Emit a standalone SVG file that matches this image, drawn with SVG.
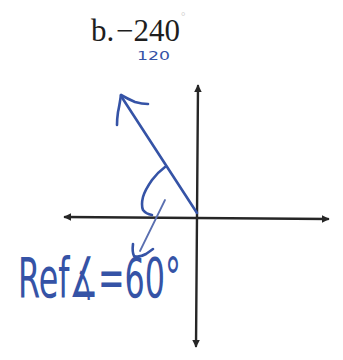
<svg xmlns="http://www.w3.org/2000/svg" width="343" height="360" viewBox="0 0 343 360">
  <defs>
    <style>
      .axis { stroke: #262626; stroke-width: 2.4; fill: none; stroke-linecap: round; }
      .ink { stroke: #3553a6; stroke-width: 2.6; fill: none; stroke-linecap: round; stroke-linejoin: round; }
      .ink-thin { stroke: #5a6fb0; stroke-width: 1.8; fill: none; stroke-linecap: round; stroke-linejoin: round; }
      .print { font-family: "Liberation Serif", "Times New Roman", serif; fill: #1e1e1e; }
      .hand { font-family: "DejaVu Sans", "Liberation Sans", sans-serif; fill: #3553a6; }
    </style>
    <marker id="axhead" viewBox="0 0 10 10" refX="8" refY="5" markerWidth="3.2" markerHeight="3.2" orient="auto-start-reverse" markerUnits="strokeWidth">
      <path d="M0,0 L10,5 L0,10 Z" fill="#262626"/>
    </marker>
  </defs>
  <rect width="343" height="360" fill="#ffffff"/>

  <g id="title">
    <text class="print" x="91" y="41" font-size="31">b.</text>
    <text class="print" x="116" y="41" font-size="31">−240</text>
    <text x="181" y="20" font-size="11" font-family="Liberation Serif, serif" fill="#c8c8c8">°</text>
  </g>

  <g id="answer-120">
    <text class="hand" x="137" y="60" font-size="13" textLength="33" lengthAdjust="spacingAndGlyphs">120</text>
  </g>

  <g id="connectors">
    <g id="x-axis">
      <line class="axis" x1="65" y1="217" x2="328" y2="219" marker-start="url(#axhead)" marker-end="url(#axhead)"/>
    </g>
    <g id="y-axis">
      <line class="axis" x1="198" y1="86" x2="196" y2="346" marker-start="url(#axhead)" marker-end="url(#axhead)"/>
    </g>
  </g>

  <g id="terminal-ray">
    <path class="ink" d="M197,213 L121,96"/>
    <path class="ink" d="M121,95 Q128,99 135,102 Q142,104 148,104"/>
    <path class="ink" d="M121,95 Q119,108 118,112 Q117,119 117,125"/>
  </g>

  <g id="angle-arc">
    <path class="ink" d="M165,167 Q157,173 152,180 Q145,190 143,197 Q141,205 143,210 Q146,214 152,215"/>
    <path class="ink-thin" d="M165,200 L140,251"/>
    <path class="ink" d="M133,244 Q132,252 134,256 Q139,258 146,254 L153,249"/>
  </g>

  <g id="reference-label">
    <text class="hand" x="18" y="297" font-size="56" textLength="163" lengthAdjust="spacingAndGlyphs">Ref∡=60°</text>
  </g>
</svg>
